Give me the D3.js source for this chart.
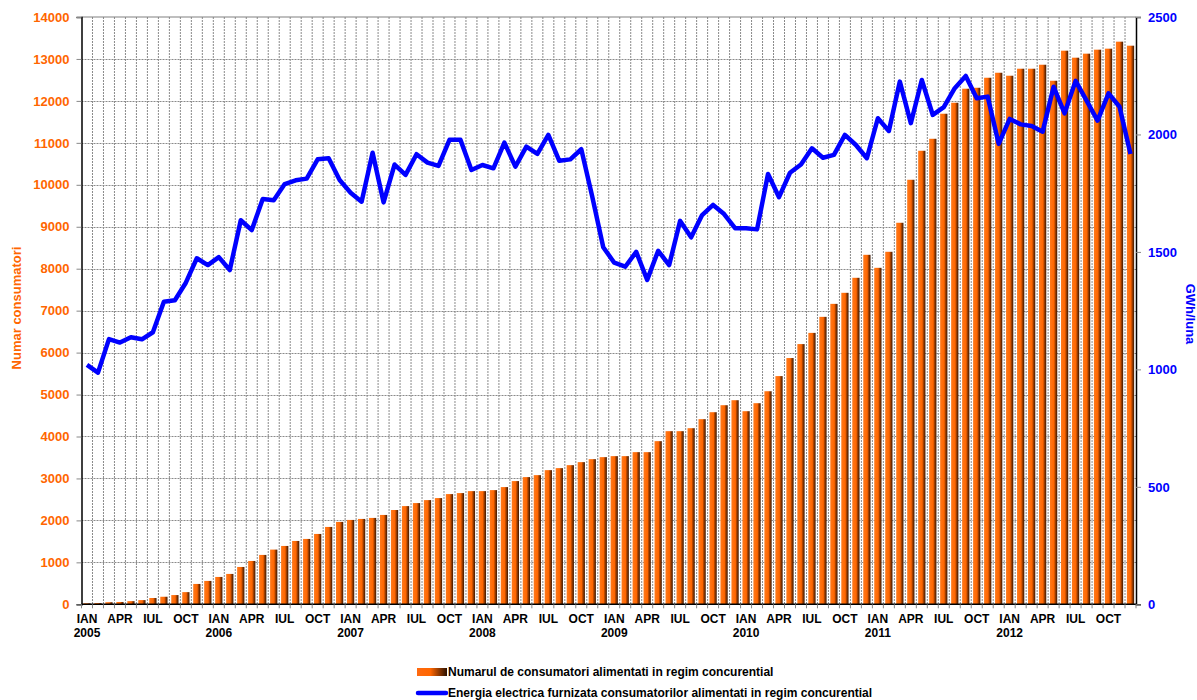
<!DOCTYPE html>
<html>
<head>
<meta charset="utf-8">
<script src="https://cdn.jsdelivr.net/npm/d3@7"></script>
<style>
  body { margin: 0; background: #fff; }
  svg { display: block; font-family: Arial, "Liberation Sans", sans-serif; }
</style>
</head>
<body>
<svg id="chart" width="1197" height="700"></svg>
<script>
// ---- DATA ----
const years = [2005, 2006, 2007, 2008, 2009, 2010, 2011, 2012];
const monthNames = ["IAN","FEB","MAR","APR","MAI","IUN","IUL","AUG","SEP","OCT","NOI","DEC"];
const quarterLabels = ["IAN", "APR", "IUL", "OCT"];
const categories = years.flatMap(y => monthNames.map(m => m + " " + y));

const consumers = [
  25, 30, 50, 55, 75, 100, 150, 180, 220, 290, 485, 557,
  652, 724, 890, 1033, 1177, 1304, 1391, 1510, 1558, 1677, 1844, 1964,
  2011, 2035, 2059, 2130, 2248, 2341, 2413, 2484, 2532, 2627, 2651, 2698,
  2698, 2722, 2794, 2937, 3032, 3079, 3198, 3246, 3317, 3389, 3460, 3508,
  3532, 3532, 3627, 3627, 3889, 4127, 4127, 4198, 4413, 4579, 4746, 4865,
  4603, 4794, 5079, 5440, 5870, 6203, 6470, 6852, 7162, 7425, 7783, 8331,
  8021, 8403, 9095, 10120, 10811, 11097, 11694, 11956, 12290, 12313, 12552, 12671,
  12600, 12767, 12767, 12862, 12480, 13197, 13030, 13126, 13221, 13245, 13412, 13316
];
const energy = [
  1019, 986, 1129, 1114, 1137, 1128, 1158, 1288, 1294, 1369, 1473, 1444,
  1478, 1423, 1635, 1593, 1725, 1720, 1789, 1805, 1812, 1894, 1899, 1806,
  1752, 1714, 1922, 1711, 1872, 1828, 1916, 1880, 1866, 1977, 1977, 1849,
  1870, 1856, 1965, 1863, 1948, 1917, 1998, 1888, 1894, 1937, 1735, 1520,
  1454, 1437, 1500, 1381, 1505, 1444, 1632, 1562, 1657, 1700, 1661, 1601,
  1601, 1596, 1832, 1733, 1837, 1872, 1941, 1901, 1913, 1998, 1955, 1899,
  2069, 2015, 2225, 2048, 2232, 2083, 2116, 2197, 2249, 2154, 2161, 1960,
  2066, 2043, 2036, 2012, 2203, 2090, 2228, 2144, 2059, 2175, 2118, 1917
];
const leftTicks = d3.range(0, 14001, 1000);
const rightTicks = [0, 500, 1000, 1500, 2000, 2500];
const seriesNames = [
  "Numarul de consumatori alimentati in regim concurential",
  "Energia electrica furnizata consumatorilor alimentati in regim concurential"
];
const leftTitle = "Numar consumatori";
const rightTitle = "GWh/luna";

// ---- LAYOUT ----
const svg = d3.select("#chart");
const L = 81.5, R = 1136, T = 17, B = 604.3;
const orange = "#FF6600", blue = "#0000FF";

const x = d3.scaleBand().domain(categories).range([L, R]).paddingInner(0).paddingOuter(0);
const yL = d3.scaleLinear().domain([0, 14000]).range([B, T]);
const yR = d3.scaleLinear().domain([0, 2500]).range([B, T]);
const bw = x.bandwidth();
const barW = bw * 0.66;

// gradient for bars
const defs = svg.append("defs");
const g1 = defs.append("linearGradient").attr("id", "barGrad").attr("x1", "0").attr("x2", "1").attr("y1", "0").attr("y2", "0");
g1.append("stop").attr("offset", "0%").attr("stop-color", "#ff7a1c");
g1.append("stop").attr("offset", "55%").attr("stop-color", "#ff6600");
g1.append("stop").attr("offset", "68%").attr("stop-color", "#b84800");
g1.append("stop").attr("offset", "100%").attr("stop-color", "#3a1600");
const g2 = defs.append("linearGradient").attr("id", "legGrad").attr("x1", "0").attr("x2", "1").attr("y1", "0").attr("y2", "0");
g2.append("stop").attr("offset", "0%").attr("stop-color", "#ff6a10");
g2.append("stop").attr("offset", "45%").attr("stop-color", "#ff6600");
g2.append("stop").attr("offset", "100%").attr("stop-color", "#2a1000");

// grid
const grid = svg.append("g");
const boundaries = categories.map(c => x(c)).concat([R]);
grid.selectAll("line.v").data(boundaries.slice(1, -1)).join("line")
  .attr("x1", d => d).attr("x2", d => d).attr("y1", T).attr("y2", B)
  .attr("stroke", "#8a8a8a").attr("stroke-width", 1).attr("stroke-dasharray", "2,1");
grid.selectAll("line.h").data(leftTicks.slice(1, -1)).join("line")
  .attr("x1", L).attr("x2", R).attr("y1", d => Math.round(yL(d)) + 0.5).attr("y2", d => Math.round(yL(d)) + 0.5)
  .attr("stroke", "#8a8a8a").attr("stroke-width", 1).attr("stroke-dasharray", "2,1");
// top border
svg.append("line").attr("x1", L).attr("x2", R).attr("y1", T).attr("y2", T).attr("stroke", "#808080").attr("stroke-width", 1.2);

// bars
svg.append("g").selectAll("rect").data(consumers).join("rect")
  .attr("x", (d, i) => x(categories[i]) + (bw - barW) / 2)
  .attr("width", barW)
  .attr("y", d => yL(d))
  .attr("height", d => B - yL(d))
  .attr("fill", "url(#barGrad)");

// line
const line = d3.line()
  .x((d, i) => x(categories[i]) + bw / 2)
  .y(d => yR(d));
svg.append("path").datum(energy)
  .attr("d", line).attr("fill", "none").attr("stroke", blue)
  .attr("stroke-width", 4.5).attr("stroke-linejoin", "round");

// left axis
const axL = svg.append("g").attr("transform", `translate(${L},0)`)
  .call(d3.axisLeft(yL).tickValues(leftTicks).tickSize(5).tickPadding(7).tickFormat(d3.format("d")));
axL.select(".domain").attr("stroke", "#000").attr("stroke-width", 1.5);
axL.selectAll(".tick line").attr("stroke", "#888");
axL.selectAll("text").attr("fill", orange).attr("font-weight", "bold").attr("font-size", 13)
  .attr("font-family", "Arial, 'Liberation Sans', sans-serif");

// right axis
const axR = svg.append("g").attr("transform", `translate(${R},0)`)
  .call(d3.axisRight(yR).tickValues(rightTicks).tickSize(5).tickPadding(7).tickFormat(d3.format("d")));
axR.select(".domain").attr("stroke", "#000").attr("stroke-width", 1.5);
axR.selectAll(".tick line").attr("stroke", "#888");
axR.selectAll("text").attr("fill", blue).attr("font-weight", "bold").attr("font-size", 13)
  .attr("font-family", "Arial, 'Liberation Sans', sans-serif");

// bottom axis (month ticks)
const axB = svg.append("g").attr("transform", `translate(0,${B})`);
axB.append("line").attr("x1", L).attr("x2", R).attr("y1", 0).attr("y2", 0).attr("stroke", "#000").attr("stroke-width", 1.5);
axB.selectAll("line.t").data(boundaries).join("line")
  .attr("x1", d => d).attr("x2", d => d).attr("y1", 0).attr("y2", 4).attr("stroke", "#888");

// x labels
const labG = svg.append("g").attr("font-weight", "bold").attr("font-size", 12).attr("fill", "#000").attr("text-anchor", "middle");
categories.forEach((c, i) => {
  const m = i % 12;
  if (m % 3 === 0) {
    const cx = x(c) + bw / 2;
    labG.append("text").attr("x", cx).attr("y", 623).text(quarterLabels[m / 3]);
    if (m === 0) labG.append("text").attr("x", cx).attr("y", 637).text(years[Math.floor(i / 12)]);
  }
});

// axis titles
svg.append("text").attr("transform", "translate(21,308) rotate(-90)")
  .attr("text-anchor", "middle").attr("fill", orange).attr("font-weight", "bold").attr("font-size", 13)
  .text(leftTitle);
svg.append("text").attr("transform", "translate(1186,314) rotate(90)")
  .attr("text-anchor", "middle").attr("fill", blue).attr("font-weight", "bold").attr("font-size", 13)
  .text(rightTitle);

// legend
const lg = svg.append("g").attr("font-weight", "bold").attr("font-size", 12).attr("fill", "#000");
lg.append("rect").attr("x", 417).attr("y", 668).attr("width", 30).attr("height", 8).attr("fill", "url(#legGrad)");
lg.append("text").attr("x", 448).attr("y", 676).text(seriesNames[0]);
lg.append("line").attr("x1", 418).attr("x2", 446).attr("y1", 693).attr("y2", 693)
  .attr("stroke", blue).attr("stroke-width", 4.5).attr("stroke-linecap", "round");
lg.append("text").attr("x", 448).attr("y", 696.5).text(seriesNames[1]);
</script>
</body>
</html>
